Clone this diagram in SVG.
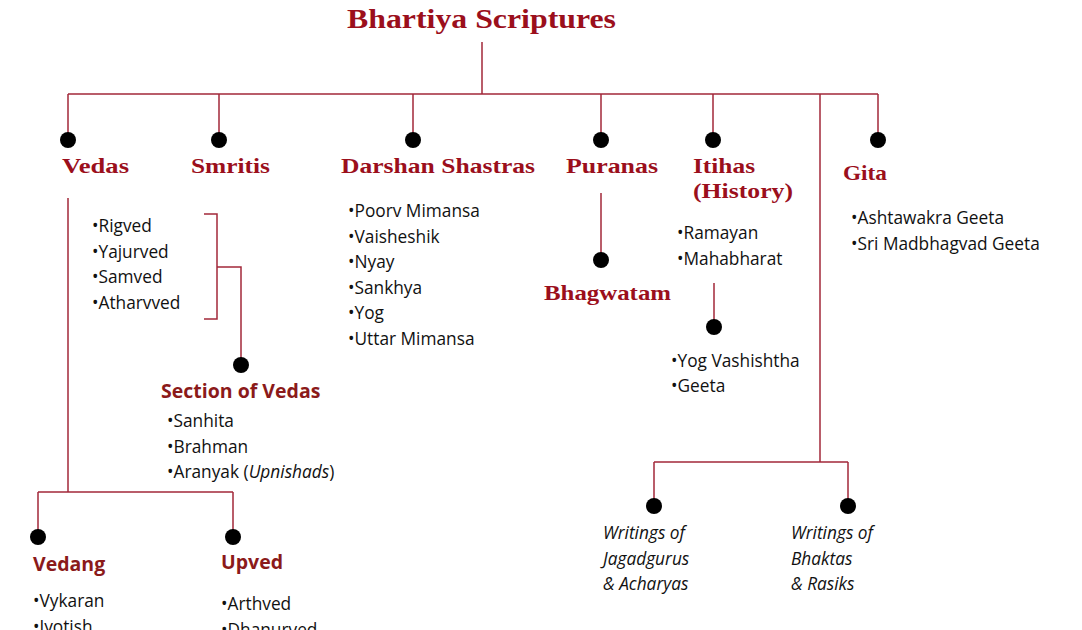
<svg xmlns="http://www.w3.org/2000/svg" width="1082" height="630" viewBox="0 0 1082 630">
<style>
.h{font-family:"Liberation Serif",serif;font-weight:bold;font-size:22px;fill:#9b0f1c}
.s{font-family:"Open Sans","Liberation Sans",sans-serif;font-weight:bold;font-size:19.5px;fill:#8b1a1a}
.t{font-family:"Open Sans","Liberation Sans",sans-serif;font-size:17.3px;fill:#111}
.i{font-style:italic}
.l{stroke:#a3283a;stroke-width:1.5;fill:none}
circle{fill:#000}
</style>
<rect width="1082" height="630" fill="#fff"/>
<g id="connectors">
<path class="l" d="M482 42V94M68 94H878M68 94V140M219 94V140M413 94V140M601 94V140M713 94V140M878 94V140"/>
<path class="l" d="M820 94V462M654 462H848M654 462V506M848 462V506"/>
<path class="l" d="M68 198V492M38 492H233M38 492V537M233 492V537"/>
<path class="l" d="M204 214H217V319H204M217 267H241V365"/>
<path class="l" d="M601 193V260M714 283V327"/>
</g>
<g id="title"><text x="347" y="28" class="h" style="font-size:27px" textLength="269" lengthAdjust="spacingAndGlyphs">Bhartiya Scriptures</text></g>
<g id="vedas"><circle cx="68" cy="140" r="8"/><text x="62" y="173" class="h" textLength="67" lengthAdjust="spacingAndGlyphs">Vedas</text>
<text class="t"><tspan x="92" y="232">•Rigved</tspan><tspan x="92" y="258">•Yajurved</tspan><tspan x="92" y="283">•Samved</tspan><tspan x="92" y="309">•Atharvved</tspan></text></g>
<g id="smritis"><circle cx="219" cy="140" r="8"/><text x="191" y="173" class="h" textLength="79" lengthAdjust="spacingAndGlyphs">Smritis</text></g>
<g id="darshan"><circle cx="413" cy="140" r="8"/><text x="341" y="173" class="h" textLength="194" lengthAdjust="spacingAndGlyphs">Darshan Shastras</text>
<text class="t"><tspan x="348" y="217">•Poorv Mimansa</tspan><tspan x="348" y="243">•Vaisheshik</tspan><tspan x="348" y="268">•Nyay</tspan><tspan x="348" y="294">•Sankhya</tspan><tspan x="348" y="319">•Yog</tspan><tspan x="348" y="345">•Uttar Mimansa</tspan></text></g>
<g id="puranas"><circle cx="601" cy="140" r="8"/><text x="566" y="173" class="h" textLength="92" lengthAdjust="spacingAndGlyphs">Puranas</text></g>
<g id="bhagwatam"><circle cx="601" cy="260" r="8"/><text x="544" y="300" class="h" textLength="127" lengthAdjust="spacingAndGlyphs">Bhagwatam</text></g>
<g id="itihas"><circle cx="713" cy="140" r="8"/><text x="693" y="173" class="h" textLength="62" lengthAdjust="spacingAndGlyphs">Itihas</text><text x="693" y="198" class="h" textLength="100" lengthAdjust="spacingAndGlyphs">(History)</text>
<text class="t"><tspan x="677" y="239">•Ramayan</tspan><tspan x="677" y="265">•Mahabharat</tspan></text></g>
<g id="yogv"><circle cx="714" cy="327" r="8"/><text class="t"><tspan x="671" y="367">•Yog Vashishtha</tspan><tspan x="671" y="392">•Geeta</tspan></text></g>
<g id="gita"><circle cx="878" cy="140" r="8"/><text x="843" y="180" class="h" textLength="44" lengthAdjust="spacingAndGlyphs">Gita</text>
<text class="t"><tspan x="851" y="224">•Ashtawakra Geeta</tspan><tspan x="851" y="250">•Sri Madbhagvad Geeta</tspan></text></g>
<g id="section"><circle cx="241" cy="365" r="8"/><text x="161" y="398" class="s">Section of Vedas</text>
<text class="t"><tspan x="167" y="427">•Sanhita</tspan><tspan x="167" y="453">•Brahman</tspan><tspan x="167" y="478">•Aranyak (<tspan class="i">Upnishads</tspan>)</tspan></text></g>
<g id="vedang"><circle cx="38" cy="537" r="8"/><text x="33" y="571" class="s">Vedang</text>
<text class="t"><tspan x="33" y="607">•Vykaran</tspan><tspan x="33" y="633">•Jyotish</tspan></text></g>
<g id="upved"><circle cx="233" cy="537" r="8"/><text x="221" y="569" class="s">Upved</text>
<text class="t"><tspan x="221" y="610">•Arthved</tspan><tspan x="221" y="636">•Dhanurved</tspan></text></g>
<g id="jagadgurus"><circle cx="654" cy="506" r="8"/><text class="t i"><tspan x="603" y="539">Writings of</tspan><tspan x="603" y="565">Jagadgurus</tspan><tspan x="603" y="590">&amp; Acharyas</tspan></text></g>
<g id="bhaktas"><circle cx="848" cy="506" r="8"/><text class="t i"><tspan x="791" y="539">Writings of</tspan><tspan x="791" y="565">Bhaktas</tspan><tspan x="791" y="590">&amp; Rasiks</tspan></text></g>
</svg>
